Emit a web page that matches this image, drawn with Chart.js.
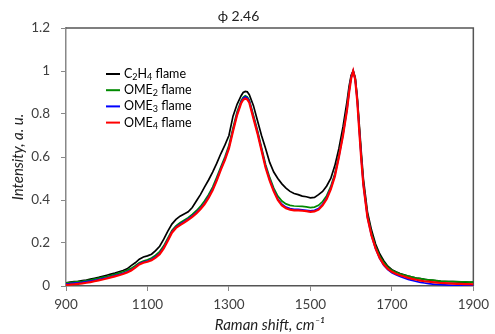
<!DOCTYPE html>
<html>
<head>
<meta charset="utf-8">
<script src="https://cdn.jsdelivr.net/npm/chart.js@4/dist/chart.umd.min.js"></script>
<style>
  html, body { margin: 0; padding: 0; background: #fff; }
  #wrap { width: 495px; height: 334px; }
</style>
</head>
<body>
<div id="wrap"><canvas id="raman"></canvas></div>
<script>
const FONT = 'Lato, "Noto Sans", "DejaVu Sans", sans-serif';

// Raman shift, cm-1 (denser around the two peaks)
const shift = [900, 910, 920, 930, 940, 950, 960, 970, 980, 990,
  1000, 1010, 1020, 1030, 1040, 1050, 1060, 1070, 1080, 1090,
  1100, 1110, 1120, 1130, 1140, 1150, 1160, 1170, 1180, 1190,
  1200, 1210, 1220, 1230, 1240, 1250, 1260, 1270, 1280, 1290,
  1300, 1310, 1320, 1330, 1335, 1340, 1345, 1350, 1360, 1370, 1380, 1390,
  1400, 1410, 1420, 1430, 1440, 1450, 1460, 1470, 1480, 1490,
  1500, 1510, 1520, 1530, 1540, 1550, 1560, 1570, 1580, 1590, 1595,
  1600, 1605, 1610, 1615, 1620, 1625, 1630, 1640, 1650, 1660, 1670, 1680, 1690,
  1700, 1710, 1720, 1730, 1740, 1750, 1760, 1770, 1780, 1790,
  1800, 1810, 1820, 1830, 1840, 1850, 1860, 1870, 1880, 1890, 1900];

const c2h4 = [0.015, 0.018, 0.02, 0.022, 0.025, 0.028, 0.032, 0.036, 0.04, 0.045,
  0.05, 0.055, 0.06, 0.066, 0.072, 0.08, 0.095, 0.108, 0.125, 0.135,
  0.14, 0.148, 0.165, 0.185, 0.218, 0.255, 0.288, 0.31, 0.325, 0.335,
  0.345, 0.365, 0.395, 0.425, 0.46, 0.493, 0.53, 0.57, 0.615, 0.655,
  0.7, 0.79, 0.845, 0.885, 0.9, 0.905, 0.903, 0.89, 0.84, 0.77, 0.7, 0.64,
  0.575, 0.53, 0.5, 0.475, 0.455, 0.44, 0.43, 0.425, 0.418, 0.415,
  0.41, 0.412, 0.425, 0.44, 0.465, 0.5, 0.56, 0.64, 0.74, 0.86, 0.93,
  0.98, 1.0, 0.97, 0.88, 0.75, 0.62, 0.5, 0.345, 0.26, 0.195, 0.15, 0.118, 0.092,
  0.076, 0.066, 0.058, 0.052, 0.046, 0.041, 0.037, 0.034, 0.031, 0.028,
  0.026, 0.024, 0.022, 0.021, 0.02, 0.02, 0.019, 0.018, 0.018, 0.017, 0.017];

const ome2 = [0.015, 0.016, 0.018, 0.02, 0.022, 0.025, 0.028, 0.032, 0.036, 0.04,
  0.044, 0.049, 0.054, 0.06, 0.066, 0.073, 0.082, 0.094, 0.108, 0.116,
  0.122, 0.13, 0.143, 0.16, 0.187, 0.222, 0.258, 0.28, 0.294, 0.306,
  0.318, 0.333, 0.35, 0.37, 0.395, 0.425, 0.46, 0.505, 0.553, 0.6,
  0.655, 0.735, 0.81, 0.862, 0.878, 0.885, 0.88, 0.865, 0.795, 0.725, 0.645, 0.565,
  0.505, 0.455, 0.418, 0.395, 0.382, 0.375, 0.372, 0.371, 0.37, 0.368,
  0.365, 0.367, 0.375, 0.393, 0.42, 0.463, 0.522, 0.61, 0.71, 0.83, 0.91,
  0.97, 1.0, 0.965, 0.87, 0.735, 0.6, 0.48, 0.33, 0.245, 0.185, 0.14, 0.11, 0.088,
  0.073, 0.064, 0.057, 0.051, 0.046, 0.041, 0.037, 0.034, 0.031, 0.029,
  0.027, 0.025, 0.023, 0.022, 0.021, 0.02, 0.02, 0.019, 0.019, 0.018, 0.018];

const ome3 = [0.01, 0.011, 0.013, 0.015, 0.017, 0.02, 0.023, 0.026, 0.03, 0.034,
  0.038, 0.043, 0.048, 0.053, 0.059, 0.066, 0.075, 0.088, 0.103, 0.111,
  0.116, 0.123, 0.136, 0.152, 0.179, 0.214, 0.252, 0.274, 0.287, 0.299,
  0.312, 0.326, 0.342, 0.361, 0.385, 0.415, 0.45, 0.495, 0.545, 0.59,
  0.645, 0.725, 0.8, 0.857, 0.873, 0.88, 0.875, 0.86, 0.787, 0.716, 0.636, 0.556,
  0.495, 0.445, 0.405, 0.38, 0.367, 0.36, 0.357, 0.356, 0.354, 0.352,
  0.35, 0.352, 0.36, 0.38, 0.41, 0.455, 0.515, 0.603, 0.703, 0.823, 0.905,
  0.97, 1.0, 0.96, 0.865, 0.725, 0.59, 0.47, 0.32, 0.235, 0.174, 0.128, 0.097, 0.076,
  0.062, 0.052, 0.044, 0.037, 0.031, 0.026, 0.021, 0.017, 0.014, 0.011,
  0.009, 0.007, 0.006, 0.005, 0.004, 0.003, 0.003, 0.002, 0.002, 0.002, 0.002];

const ome4 = [0.005, 0.006, 0.008, 0.01, 0.012, 0.015, 0.018, 0.022, 0.026, 0.03,
  0.035, 0.04, 0.045, 0.05, 0.056, 0.063, 0.072, 0.085, 0.1, 0.108,
  0.113, 0.12, 0.132, 0.148, 0.175, 0.21, 0.248, 0.27, 0.283, 0.295,
  0.308, 0.322, 0.338, 0.357, 0.38, 0.41, 0.445, 0.49, 0.54, 0.585,
  0.64, 0.72, 0.795, 0.85, 0.866, 0.872, 0.868, 0.853, 0.78, 0.71, 0.63, 0.55,
  0.49, 0.44, 0.4, 0.375, 0.362, 0.355, 0.352, 0.352, 0.35, 0.348,
  0.345, 0.347, 0.355, 0.375, 0.405, 0.45, 0.51, 0.6, 0.7, 0.82, 0.9,
  0.965, 1.0, 0.96, 0.86, 0.72, 0.585, 0.47, 0.32, 0.235, 0.175, 0.13, 0.1, 0.08,
  0.066, 0.057, 0.05, 0.044, 0.038, 0.033, 0.029, 0.025, 0.022, 0.02,
  0.018, 0.016, 0.014, 0.013, 0.012, 0.011, 0.01, 0.01, 0.009, 0.009, 0.008];

const seriesLabels = ['C_2H_4 flame', 'OME_2 flame', 'OME_3 flame', 'OME_4 flame'];
const seriesColors = ['#000000', '#008a00', '#0000ff', '#ff0000'];
const xTicks = [900, 1100, 1300, 1500, 1700, 1900];
const yTicks = [0, 0.2, 0.4, 0.6, 0.8, 1, 1.2];

const points = ys => shift.map((x, i) => ({ x: x, y: ys[i] }));

// box lines on top and right of the plot
const chartAreaBorder = {
  id: 'chartAreaBorder',
  beforeDatasetsDraw(chart, args, options) {
    const { ctx, chartArea: { left, top, right, bottom } } = chart;
    ctx.save();
    ctx.strokeStyle = options.borderColor;
    ctx.lineWidth = options.borderWidth;
    ctx.beginPath();
    ctx.moveTo(left, top);
    ctx.lineTo(right, top);
    ctx.lineTo(right, bottom);
    ctx.stroke();
    ctx.restore();
  }
};

// legend inside the plot, with subscript digits
const innerLegend = {
  id: 'innerLegend',
  afterDatasetsDraw(chart, args, opts) {
    const ctx = chart.ctx;
    ctx.save();
    chart.data.datasets.forEach((ds, i) => {
      const y = opts.y + i * opts.gap;
      ctx.strokeStyle = ds.borderColor;
      ctx.lineWidth = 2;
      ctx.beginPath();
      ctx.moveTo(opts.x, y);
      ctx.lineTo(opts.x + 14, y);
      ctx.stroke();
      let x = opts.x + 18;
      ctx.textBaseline = 'middle';
      ctx.fillStyle = '#000';
      ds.label.split(/(_\d)/).forEach(part => {
        if (!part) return;
        const sub = part[0] === '_';
        const t = sub ? part.slice(1) : part;
        ctx.font = (sub ? 9 : 12.5) + 'px ' + FONT;
        ctx.fillText(t, x, y + (sub ? 3 : 0));
        x += ctx.measureText(t).width;
      });
    });
    ctx.restore();
  }
};

new Chart(document.getElementById('raman'), {
  type: 'line',
  plugins: [chartAreaBorder, innerLegend],
  data: {
    datasets: [c2h4, ome2, ome3, ome4].map((ys, i) => ({
      label: seriesLabels[i],
      data: points(ys),
      borderColor: seriesColors[i],
      backgroundColor: seriesColors[i],
      borderWidth: i === 3 ? 2.2 : 1.7,
      pointRadius: 0,
      tension: 0,
      order: 3 - i
    }))
  },
  options: {
    responsive: true,
    maintainAspectRatio: false,
    animation: false,
    events: [],
    layout: { padding: { left: 0, right: 18, top: 0, bottom: 0 } },
    plugins: {
      legend: { display: false },
      tooltip: { enabled: false },
      title: {
        display: true,
        text: 'ϕ 2.46',
        color: '#222',
        font: { family: FONT, size: 14, weight: 'normal', lineHeight: 1.2 },
        padding: { top: 8, bottom: 3.2 }
      },
      chartAreaBorder: { borderColor: '#555', borderWidth: 1.5 },
      innerLegend: { x: 106, y: 74, gap: 16.2 }
    },
    scales: {
      x: {
        type: 'linear',
        min: 900,
        max: 1900,
        afterBuildTicks: scale => { scale.ticks = xTicks.map(v => ({ value: v })); },
        afterFit: scale => { scale.height = 48; },
        ticks: { color: '#404040', padding: 6, font: { family: FONT, size: 13.5 }, maxRotation: 0, callback: v => String(v) },
        grid: { display: true, drawOnChartArea: false, drawTicks: true, tickLength: 5, color: '#888', lineWidth: 1 },
        border: { display: true, color: '#555', width: 1.5 },
        title: {
          display: true,
          text: 'Raman shift, cm⁻¹',
          color: '#222',
          font: { family: FONT, size: 15, style: 'italic' },
          padding: { top: 0, bottom: 0 }
        }
      },
      y: {
        min: 0,
        max: 1.2,
        afterBuildTicks: scale => { scale.ticks = yTicks.map(v => ({ value: v })); },
        afterFit: scale => { scale.width = 66; },
        ticks: { color: '#404040', padding: 11, font: { family: FONT, size: 13.5 }, callback: v => String(v) },
        grid: { display: true, drawOnChartArea: false, drawTicks: true, tickLength: 5, color: '#888', lineWidth: 1 },
        border: { display: true, color: '#888', width: 1.5 },
        title: {
          display: true,
          text: 'Intensity, a. u.',
          color: '#222',
          font: { family: FONT, size: 15, style: 'italic' },
          padding: { top: 9, bottom: 0 }
        }
      }
    }
  }
});
</script>
</body>
</html>
